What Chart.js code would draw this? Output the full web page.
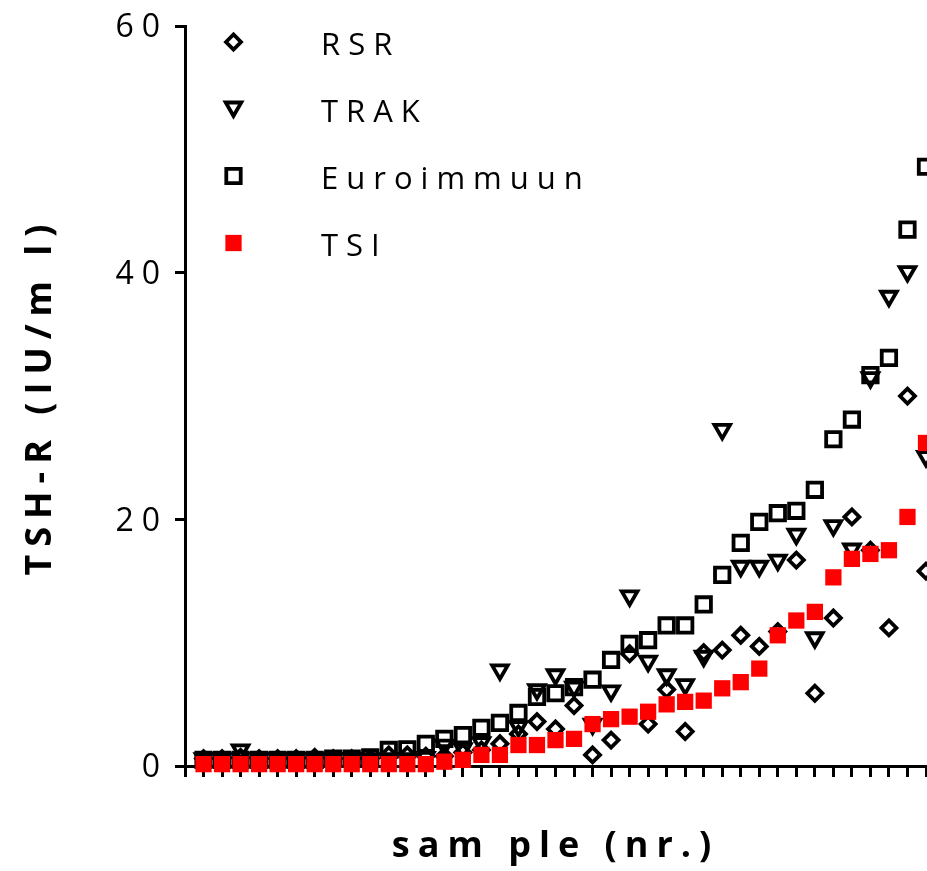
<!DOCTYPE html>
<html>
<head>
<meta charset="utf-8">
<script src="https://cdn.jsdelivr.net/npm/chart.js@4.4.1/dist/chart.umd.min.js"></script>
<style>
  html, body { margin: 0; padding: 0; background: #fff; overflow: hidden; }
  #caixa { position: relative; width: 940px; height: 871px; }
</style>
</head>
<body>
<div id="caixa"><canvas id="grafico"></canvas></div>
<script>
// Dados
const amostras = [1, 2, 3, 4, 5, 6, 7, 8, 9, 10, 11, 12, 13, 14, 15, 16, 17, 18, 19, 20,
                  21, 22, 23, 24, 25, 26, 27, 28, 29, 30, 31, 32, 33, 34, 35, 36, 37, 38, 39, 40];
const rsr = [0.6, 0.6, 0.7, 0.6, 0.6, 0.6, 0.7, 0.6, 0.6, 0.6, 0.9, 0.9, 0.8, 0.8, 1.1, 1.3, 1.8, 2.6, 3.6, 3.0,
             4.9, 0.9, 2.1, 9.1, 3.4, 6.2, 2.8, 9.2, 9.4, 10.6, 9.7, 10.9, 16.7, 5.9, 12.0, 20.2, 17.5, 11.2, 30.0, 15.8];
const trak = [0.6, 0.6, 1.3, 0.6, 0.6, 0.6, 0.6, 0.6, 0.6, 0.6, 0.6, 0.6, 0.7, 1.7, 1.4, 1.9, 7.8, 3.2, 6.2, 7.4,
              6.4, 3.4, 6.1, 13.8, 8.5, 7.4, 6.6, 8.9, 27.3, 16.2, 16.2, 16.7, 18.8, 10.4, 19.5, 17.6, 31.5, 38.1, 40.1, 25.1];
const euroimmuun = [0.5, 0.5, 0.5, 0.5, 0.5, 0.5, 0.5, 0.6, 0.6, 0.7, 1.3, 1.35, 1.8, 2.2, 2.5, 3.1, 3.5, 4.3, 5.6, 5.9,
                    6.4, 7.0, 8.6, 9.9, 10.2, 11.4, 11.4, 13.1, 15.5, 18.1, 19.8, 20.5, 20.7, 22.4, 26.5, 28.1, 31.7, 33.1, 43.5, 48.6];
const tsi = [0.15, 0.15, 0.15, 0.15, 0.15, 0.15, 0.15, 0.15, 0.15, 0.15, 0.15, 0.15, 0.15, 0.35, 0.5, 0.9, 0.9, 1.7, 1.7, 2.1,
             2.2, 3.4, 3.8, 4.0, 4.4, 5.0, 5.2, 5.3, 6.3, 6.8, 7.9, 10.6, 11.8, 12.5, 15.3, 16.8, 17.2, 17.5, 20.2, 26.2];
const ticksY = [0, 20, 40, 60];
const nomes = ['RSR', 'TRAK', 'Euroimmuun', 'TSI'];

const pontos = (valores) => amostras.map((n, i) => ({ x: n, y: valores[i] }));

Chart.defaults.font.family = "'Open Sans', sans-serif";
Chart.defaults.color = '#000';

// espaçamento entre letras, como no original
const espacamento = {
    id: 'espacamento',
    beforeDraw(chart) {
        chart.ctx.letterSpacing = '8px';
    }
};

// legenda desenhada à mão dentro do gráfico
const legenda = {
    id: 'legenda',
    afterDraw(chart) {
        const ctx = chart.ctx;
        chart.data.datasets.forEach((ds, i) => {
            const y = 42 + 67 * i;
            ctx.save();
            ctx.lineWidth = ds.pointBorderWidth;
            ctx.strokeStyle = ds.pointBorderColor;
            ctx.fillStyle = ds.pointBackgroundColor;
            Chart.helpers.drawPoint(ctx, {
                pointStyle: ds.pointStyle,
                radius: ds.pointRadius,
                rotation: ds.pointRotation || 0,
                borderWidth: ds.pointBorderWidth
            }, 233.5, ds.pointRotation ? y - 2 : y);
            ctx.restore();

            ctx.save();
            ctx.letterSpacing = '8px';
            ctx.font = "31px 'Open Sans'";
            ctx.fillStyle = '#000';
            ctx.textAlign = 'left';
            ctx.textBaseline = 'middle';
            ctx.fillText(ds.label, 321, y + 4);
            ctx.restore();
        });
    }
};

const vazio = 'rgba(0,0,0,0)';

const grafico = new Chart(document.getElementById('grafico'), {
    type: 'scatter',
    data: {
        datasets: [{
            label: nomes[0],
            data: pontos(rsr),
            pointStyle: 'rectRot',
            pointRadius: 7.5,
            pointBorderWidth: 3.8,
            pointBorderColor: '#000',
            pointBackgroundColor: vazio,
            order: 3,
            clip: false
        }, {
            label: nomes[1],
            data: pontos(trak),
            pointStyle: 'triangle',
            pointRotation: 180,
            pointRadius: 9,
            pointBorderWidth: 3.8,
            pointBorderColor: '#000',
            pointBackgroundColor: vazio,
            order: 2,
            clip: false
        }, {
            label: nomes[2],
            data: pontos(euroimmuun),
            pointStyle: 'rect',
            pointRadius: 10.2,
            pointBorderWidth: 3.8,
            pointBorderColor: '#000',
            pointBackgroundColor: vazio,
            order: 1,
            clip: false
        }, {
            label: nomes[3],
            data: pontos(tsi),
            pointStyle: 'rect',
            pointRadius: 11.5,
            pointBorderWidth: 0,
            pointBorderColor: '#ff0000',
            pointBackgroundColor: '#ff0000',
            order: 0,
            clip: false
        }]
    },
    options: {
        responsive: true,
        maintainAspectRatio: false,
        animation: false,
        events: [],
        layout: { padding: { top: 18.3, right: 9.35, bottom: 0, left: 0 } },
        plugins: {
            legend: { display: false },
            tooltip: { enabled: false }
        },
        scales: {
            x: {
                type: 'linear',
                min: 0,
                max: 40,
                ticks: { display: false, stepSize: 1, maxTicksLimit: 100 },
                grid: { drawOnChartArea: false, drawTicks: true, tickLength: 11, color: '#000', lineWidth: 3 },
                border: { display: true, color: '#000', width: 3 },
                title: {
                    display: true,
                    text: 'sam ple (nr.)',
                    color: '#000',
                    font: { size: 36, weight: 'bold' },
                    padding: { top: 0, bottom: 3 }
                },
                afterFit: (scale) => { scale.height = 105; }
            },
            y: {
                min: 0,
                max: 60,
                afterBuildTicks: (scale) => { scale.ticks = ticksY.map(v => ({ value: v })); },
                ticks: { color: '#000', font: { size: 32 }, padding: 7, labelOffset: 2 },
                grid: { drawOnChartArea: false, drawTicks: true, tickLength: 10, color: '#000', lineWidth: 3 },
                border: { display: true, color: '#000', width: 3 },
                title: {
                    display: true,
                    text: 'TSH-R (IU/m l)',
                    color: '#000',
                    font: { size: 36, weight: 'bold' },
                    padding: { top: 19, bottom: 0 }
                },
                afterFit: (scale) => { scale.width = 185; }
            }
        }
    },
    plugins: [espacamento, legenda]
});
</script>
</body>
</html>
